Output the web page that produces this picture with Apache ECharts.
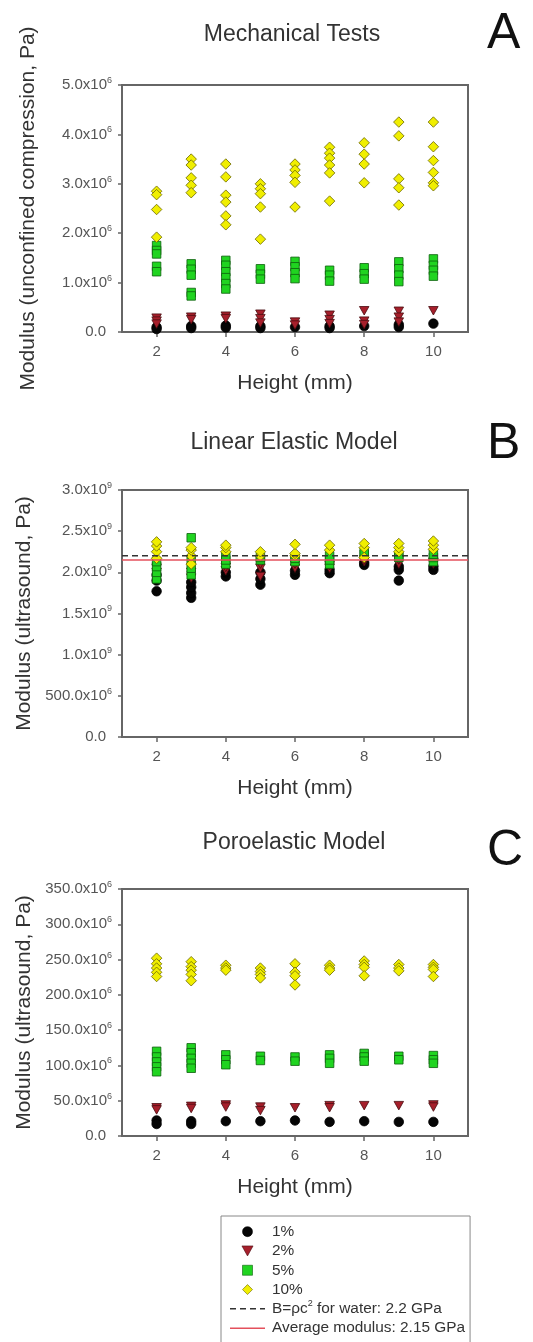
<!DOCTYPE html>
<html>
<head>
<meta charset="utf-8">
<title>Modulus vs. height</title>
<script src="https://cdn.jsdelivr.net/npm/echarts@6/dist/echarts.min.js"></script>
<style>
  html, body { margin: 0; padding: 0; background: #fff; }
  #chart { width: 533px; height: 1342px; }
</style>
</head>
<body>
<div id="chart"></div>
<script>
// Sample heights (mm) shared by every panel
const heightsMm = [2, 3, 4, 5, 6, 7, 8, 9, 10];

// Panel A: unconfined compression modulus, units of 10^6 Pa (one list per height)
const mech1 = [[0.10, 0.06], [0.12, 0.08], [0.13, 0.09], [0.12, 0.08], [0.10], [0.12, 0.08], [0.12], [0.15, 0.10], [0.17]];
const mech2 = [[0.28, 0.22, 0.16], [0.30, 0.25], [0.32, 0.27], [0.36, 0.27, 0.18], [0.20, 0.14], [0.34, 0.25, 0.17], [0.43, 0.22, 0.15], [0.42, 0.30, 0.20], [0.43]];
const mech5 = [[1.75, 1.65, 1.58, 1.33, 1.22], [1.38, 1.27, 1.15, 0.80, 0.73], [1.45, 1.35, 1.22, 1.10, 0.98, 0.87], [1.28, 1.17, 1.07], [1.43, 1.32, 1.20, 1.08], [1.25, 1.15, 1.03], [1.30, 1.18, 1.07], [1.42, 1.28, 1.15, 1.02], [1.48, 1.35, 1.25, 1.13]];
const mech10 = [[2.85, 2.78, 2.48, 1.92], [3.50, 3.38, 3.12, 2.97, 2.82], [3.40, 3.14, 2.77, 2.63, 2.35, 2.17], [3.00, 2.90, 2.80, 2.53, 1.88], [3.40, 3.28, 3.17, 3.03, 2.53], [3.74, 3.62, 3.52, 3.38, 3.22, 2.65], [3.83, 3.60, 3.40, 3.02], [4.25, 3.97, 3.10, 2.92, 2.57], [4.25, 3.75, 3.47, 3.23, 3.02, 2.96]];

// Panel B: ultrasound modulus, linear elastic model, units of 10^9 Pa
const linear1 = [[1.77, 1.90, 1.97], [1.69, 1.75, 1.82, 1.88], [1.95, 2.00], [1.85, 1.92, 2.00], [1.97, 2.02], [1.99, 2.03], [2.09, 2.12], [1.90, 2.03, 2.07], [2.03, 2.07]];
const linear2 = [[2.00, 2.05], [1.93, 2.00], [2.02, 2.06], [1.95, 2.05, 2.10], [2.05, 2.10], [2.05, 2.08], [2.13, 2.15], [2.10, 2.15], [2.10, 2.12]];
const linear5 = [[1.92, 2.00, 2.07, 2.13], [1.97, 2.05, 2.15, 2.42], [2.10, 2.15, 2.20], [2.15, 2.18], [2.13, 2.17], [2.10, 2.15, 2.20], [2.22, 2.25], [2.18, 2.20], [2.13, 2.18, 2.22]];
const linear10 = [[2.17, 2.25, 2.32, 2.37], [2.10, 2.20, 2.27, 2.30], [2.25, 2.30, 2.33], [2.20, 2.25], [2.20, 2.23, 2.34], [2.27, 2.33], [2.18, 2.30, 2.35], [2.25, 2.30, 2.35], [2.28, 2.33, 2.38]];
// Horizontal reference levels in panel B (10^9 Pa): water bulk modulus, average modulus
const referenceLevels = [2.2, 2.15];

// Panel C: ultrasound modulus, poroelastic model, units of 10^6 Pa
const poro1 = [[22, 17], [21, 17], [21], [21], [22], [20], [21], [20], [20]];
const poro2 = [[40, 37], [42, 39], [44, 41], [41, 36], [40], [43, 40], [43], [43], [44, 41]];
const poro5 = [[120, 112, 105, 98, 91], [125, 118, 110, 103, 96], [115, 108, 101], [113, 107], [112, 106], [115, 110, 103], [117, 112, 106], [113, 108], [114, 108, 103]];
const poro10 = [[252, 244, 238, 232, 226], [247, 240, 235, 229, 220], [242, 238, 235], [238, 233, 229, 224], [244, 232, 227, 214], [242, 238, 235], [248, 243, 239, 227], [243, 238, 234], [243, 239, 236, 226]];

// Tick values for the height axis
const heightTicks = [2, 4, 6, 8, 10];

const FONT = '"Liberation Sans", Arial, Helvetica, sans-serif';
const LABEL_COLOR = '#555';
const FRAME_COLOR = '#666';
const WATER_NAME = 'B=ρc2 for water: 2.2 GPa';
const AVERAGE_NAME = 'Average modulus: 2.15 GPa';

const TRIANGLE_DOWN = 'path://M0,0 L10,0 L5,9 Z';
const SQUARE = 'path://M0,0 L10,0 L10,10 L0,10 Z';
const DIAMOND = 'path://M5,0 L10,5 L5,10 L0,5 Z';

const markers = {
  '1%':  { symbol: 'circle', size: 9.5, fill: '#050505', stroke: '#000000', icon: 'circle' },
  '2%':  { symbol: TRIANGLE_DOWN, size: [9.5, 8.5], fill: '#a61f2b', stroke: '#4a0c10', icon: TRIANGLE_DOWN },
  '5%':  { symbol: 'rect', size: 8.5, fill: '#20d420', stroke: '#0d5e0d', icon: SQUARE },
  '10%': { symbol: 'diamond', size: 10.5, fill: '#f0ee00', stroke: '#6a6600', icon: DIAMOND }
};

// Legend glyphs for the two reference lines (thin bars, the first one broken into dashes)
const DASH_ICON = 'path://M0,0h6v1.5h-6z M10,0h6v1.5h-6z M20,0h6v1.5h-6z M30,0h5v1.5h-5z';
const SOLID_ICON = 'path://M0,0h35v1.5h-35z';

function toPoints(perHeight) {
  return heightsMm.flatMap((h, i) => perHeight[i].map(v => [h, v]));
}

function scatter(name, axisIndex, perHeight, z) {
  const m = markers[name];
  return {
    type: 'scatter', name, xAxisIndex: axisIndex, yAxisIndex: axisIndex,
    data: toPoints(perHeight),
    symbol: m.symbol, symbolSize: m.size,
    itemStyle: { color: m.fill, borderColor: m.stroke, borderWidth: 0.8, opacity: 1 },
    emphasis: { disabled: true }, z: z, silent: true
  };
}

const richTicks = {
  m: { fontSize: 15, color: LABEL_COLOR, fontFamily: FONT, lineHeight: 18 },
  s: { fontSize: 9, color: LABEL_COLOR, fontFamily: FONT, lineHeight: 10, verticalAlign: 'top' },
  z: { fontSize: 15, color: LABEL_COLOR, fontFamily: FONT, lineHeight: 18, padding: [0, 6, 0, 0] }
};

function sci(base, exp) { return '{m|' + base + 'x10}{s|' + exp + '}'; }

const labelA = v => v === 0 ? '{z|0.0}' : sci(v.toFixed(1), 6);
const labelB = v => v === 0 ? '{z|0.0}' : (v < 1 ? sci((v * 1000).toFixed(1), 6) : sci(v.toFixed(1), 9));
const labelC = v => v === 0 ? '{z|0.0}' : sci(v.toFixed(1), 6);

const grids = [
  { left: 122, top: 85, width: 346, height: 247 },
  { left: 122, top: 490, width: 346, height: 247 },
  { left: 122, top: 889, width: 346, height: 247 }
];

function xAxis(i) {
  return {
    type: 'value', gridIndex: i, min: 1, max: 11,
    axisLine: { show: true, lineStyle: { color: FRAME_COLOR, width: 2 } },
    axisTick: { show: true, customValues: heightTicks, length: 5, lineStyle: { color: FRAME_COLOR, width: 1.5 } },
    axisLabel: { customValues: heightTicks, margin: 12, fontSize: 15, color: LABEL_COLOR, fontFamily: FONT },
    splitLine: { show: false },
    name: 'Height (mm)', nameLocation: 'middle', nameGap: 41,
    nameTextStyle: { fontSize: 21, color: '#333', fontFamily: FONT }
  };
}

function yAxis(i, max, interval, formatter, title) {
  return {
    type: 'value', gridIndex: i, min: 0, max: max, interval: interval,
    axisLine: { show: true, lineStyle: { color: FRAME_COLOR, width: 2 } },
    axisTick: { show: true, length: 4, lineStyle: { color: FRAME_COLOR, width: 1.5 } },
    axisLabel: { margin: 10, formatter: formatter, rich: richTicks },
    splitLine: { show: false },
    name: title, nameLocation: 'middle', nameGap: 83,
    nameTextStyle: { fontSize: 21, color: '#333', fontFamily: FONT }
  };
}

function heading(text, x, y) {
  return { text, left: x, top: y, textAlign: 'center', textVerticalAlign: 'middle', padding: 0,
    textStyle: { fontSize: 23, fontWeight: 'normal', color: '#333', fontFamily: FONT } };
}
function panelLetter(text, y) {
  return { text, left: 487, top: y, textVerticalAlign: 'middle', padding: 0,
    textStyle: { fontSize: 50, fontWeight: 'normal', color: '#111', fontFamily: FONT } };
}

const option = {
  animation: false,
  backgroundColor: '#fff',
  title: [
    heading('Mechanical Tests', 292, 35),
    heading('Linear Elastic Model', 294, 443),
    heading('Poroelastic Model', 294, 843),
    panelLetter('A', 34),
    panelLetter('B', 444),
    panelLetter('C', 851)
  ],
  grid: grids.map(g => Object.assign({ show: true, borderColor: FRAME_COLOR, borderWidth: 2, backgroundColor: 'transparent' }, g)),
  xAxis: [xAxis(0), xAxis(1), xAxis(2)],
  yAxis: [
    yAxis(0, 5, 1, labelA, 'Modulus (unconfined compression, Pa)'),
    yAxis(1, 3, 0.5, labelB, 'Modulus (ultrasound, Pa)'),
    yAxis(2, 350, 50, labelC, 'Modulus (ultrasound, Pa)')
  ],
  legend: {
    orient: 'vertical', left: 221, top: 1216, height: 140,
    padding: [6, 5, 12, 9], itemGap: 0, itemWidth: 35, itemHeight: 10,
    borderColor: '#888', borderWidth: 1, backgroundColor: '#fff',
    selectedMode: false,
    itemStyle: { borderWidth: 0.6 },
    data: [
      { name: '1%', icon: markers['1%'].icon },
      { name: '2%', icon: markers['2%'].icon },
      { name: '5%', icon: markers['5%'].icon },
      { name: '10%', icon: markers['10%'].icon },
      { name: WATER_NAME, icon: DASH_ICON },
      { name: AVERAGE_NAME, icon: SOLID_ICON }
    ],
    formatter: function (name) {
      if (name === WATER_NAME) return '{n|B=ρc}{p|2}{n| for water: 2.2 GPa}';
      return '{n|' + name + '}';
    },
    textStyle: {
      fontSize: 15.4, color: '#333', fontFamily: FONT, lineHeight: 19.3, padding: [0, 0, 0, 2],
      rich: {
        n: { fontSize: 15.4, color: '#333', fontFamily: FONT, lineHeight: 19.3 },
        p: { fontSize: 9, color: '#333', fontFamily: FONT, lineHeight: 11, verticalAlign: 'top' }
      }
    }
  },
  series: [
    scatter('1%', 0, mech1, 2), scatter('2%', 0, mech2, 3), scatter('5%', 0, mech5, 4), scatter('10%', 0, mech10, 5),
    scatter('1%', 1, linear1, 2), scatter('2%', 1, linear2, 3), scatter('5%', 1, linear5, 4), scatter('10%', 1, linear10, 5),
    scatter('1%', 2, poro1, 2), scatter('2%', 2, poro2, 3), scatter('5%', 2, poro5, 4), scatter('10%', 2, poro10, 5),
    {
      type: 'line', name: WATER_NAME, xAxisIndex: 1, yAxisIndex: 1,
      data: [[1, referenceLevels[0]], [11, referenceLevels[0]]],
      symbol: 'none', silent: true, z: 6,
      itemStyle: { color: '#333' },
      lineStyle: { color: '#333', width: 1.5, type: [6, 4] }
    },
    {
      type: 'line', name: AVERAGE_NAME, xAxisIndex: 1, yAxisIndex: 1,
      data: [[1, referenceLevels[1]], [11, referenceLevels[1]]],
      symbol: 'none', silent: true, z: 6,
      itemStyle: { color: '#e4505c' },
      lineStyle: { color: '#e4505c', width: 1.5 }
    }
  ]
};

const chart = echarts.init(document.getElementById('chart'), null, { renderer: 'canvas' });
chart.setOption(option);
</script>
</body>
</html>
